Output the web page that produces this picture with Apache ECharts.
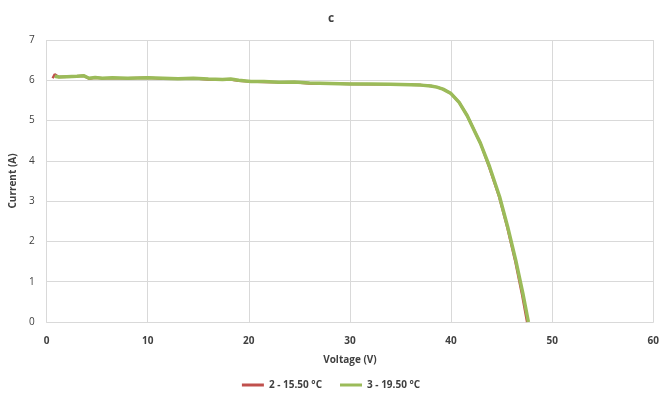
<!DOCTYPE html>
<html>
<head>
<meta charset="utf-8">
<script src="https://cdn.jsdelivr.net/npm/echarts@6/dist/echarts.min.js"></script>
<style>
  html, body { margin: 0; padding: 0; background: #fff; }
  #chart { width: 662px; height: 397px; }
</style>
</head>
<body>
<div id="chart"></div>
<script>
// IV curves
const greenVoltage = [0.8, 1.2, 2.0, 3.0, 3.7, 4.2, 4.8, 5.5, 6.5, 8.0, 10.0, 11.5, 13.0, 14.5, 16.0, 17.4, 18.2, 19.0, 20.2, 21.5, 23.0, 24.5, 26.0, 28.0, 30.0, 32.0, 34.0, 36.0, 37.0, 38.0, 38.6, 39.2, 40.0, 40.8, 41.6, 42.4, 42.9, 43.8, 44.8, 45.6, 46.4, 47.1, 47.65];
const greenCurrent = [6.10, 6.08, 6.09, 6.10, 6.11, 6.05, 6.07, 6.05, 6.06, 6.05, 6.06, 6.05, 6.04, 6.05, 6.03, 6.02, 6.03, 6.00, 5.97, 5.97, 5.95, 5.96, 5.93, 5.92, 5.91, 5.91, 5.90, 5.89, 5.88, 5.86, 5.83, 5.78, 5.67, 5.45, 5.12, 4.70, 4.44, 3.86, 3.11, 2.36, 1.53, 0.71, 0];

const redVoltage = [0.6, 0.8, 1.2, 2.0, 3.0, 3.7, 4.2, 4.8, 5.5, 6.5, 8.0, 10.0, 11.5, 13.0, 14.5, 16.0, 17.4, 18.2, 19.0, 20.2, 21.5, 23.0, 24.5, 26.0, 28.0, 30.0, 32.0, 34.0, 36.0, 37.0, 38.0, 38.6, 39.2, 40.0, 40.8, 41.6, 42.4, 42.9, 43.75, 44.75, 45.55, 46.33, 47.0, 47.52];
const redCurrent = [6.05, 6.15, 6.08, 6.09, 6.10, 6.11, 6.04, 6.06, 6.05, 6.05, 6.05, 6.06, 6.04, 6.04, 6.05, 6.02, 6.02, 6.02, 5.99, 5.97, 5.96, 5.95, 5.95, 5.92, 5.92, 5.91, 5.90, 5.90, 5.89, 5.88, 5.86, 5.83, 5.78, 5.67, 5.45, 5.12, 4.70, 4.44, 3.86, 3.11, 2.36, 1.53, 0.71, 0];

const seriesNames = ['2 - 15.50 °C', '3 - 19.50 °C'];
const seriesColors = ['#c0504d', '#9bbb59'];

const font = "'Open Sans', 'Liberation Sans', sans-serif";
const pairs = (xs, ys) => xs.map((x, i) => [x, ys[i]]);

const chart = echarts.init(document.getElementById('chart'));
chart.setOption({
  animation: false,
  title: {
    text: 'c',
    left: 'center',
    top: 8,
    textStyle: { fontFamily: font, fontSize: 12, fontWeight: 'bold', color: '#404040' },
  },
  grid: { left: 42, right: 7, top: 40, bottom: 75 },
  legend: {
    bottom: 2,
    left: 'center',
    icon: 'rect',
    itemWidth: 22,
    itemHeight: 3,
    itemGap: 18,
    textStyle: { fontFamily: font, fontSize: 10, fontWeight: 'bold', color: '#404040' },
    data: seriesNames,
  },
  xAxis: {
    type: 'value',
    min: 0,
    max: 60,
    interval: 10,
    name: 'Voltage (V)',
    nameLocation: 'middle',
    nameGap: 33,
    nameTextStyle: { fontFamily: font, fontSize: 10, fontWeight: 'bold', color: '#404040' },
    axisLine: { show: true, lineStyle: { color: '#d9d9d9' } },
    axisTick: { show: false },
    axisLabel: { fontFamily: font, fontSize: 10, fontWeight: 'bold', color: '#404040', margin: 14 },
    splitLine: { show: true, lineStyle: { color: '#d9d9d9' } },
  },
  yAxis: {
    type: 'value',
    min: 0,
    max: 7,
    interval: 1,
    name: 'Current (A)',
    nameLocation: 'middle',
    nameGap: 26,
    nameTextStyle: { fontFamily: font, fontSize: 10, fontWeight: 'bold', color: '#404040' },
    axisLine: { show: false },
    axisTick: { show: false },
    axisLabel: { fontFamily: font, fontSize: 10, color: '#404040', margin: 12 },
    splitLine: { show: true, lineStyle: { color: '#d9d9d9' } },
  },
  series: [
    {
      name: seriesNames[0],
      type: 'line',
      showSymbol: false,
      color: seriesColors[0],
      lineStyle: { width: 2.5, color: seriesColors[0] },
      data: pairs(redVoltage, redCurrent),
      z: 2,
    },
    {
      name: seriesNames[1],
      type: 'line',
      showSymbol: false,
      color: seriesColors[1],
      lineStyle: { width: 3.5, color: seriesColors[1] },
      data: pairs(greenVoltage, greenCurrent),
      z: 3,
    },
  ],
});
</script>
</body>
</html>
